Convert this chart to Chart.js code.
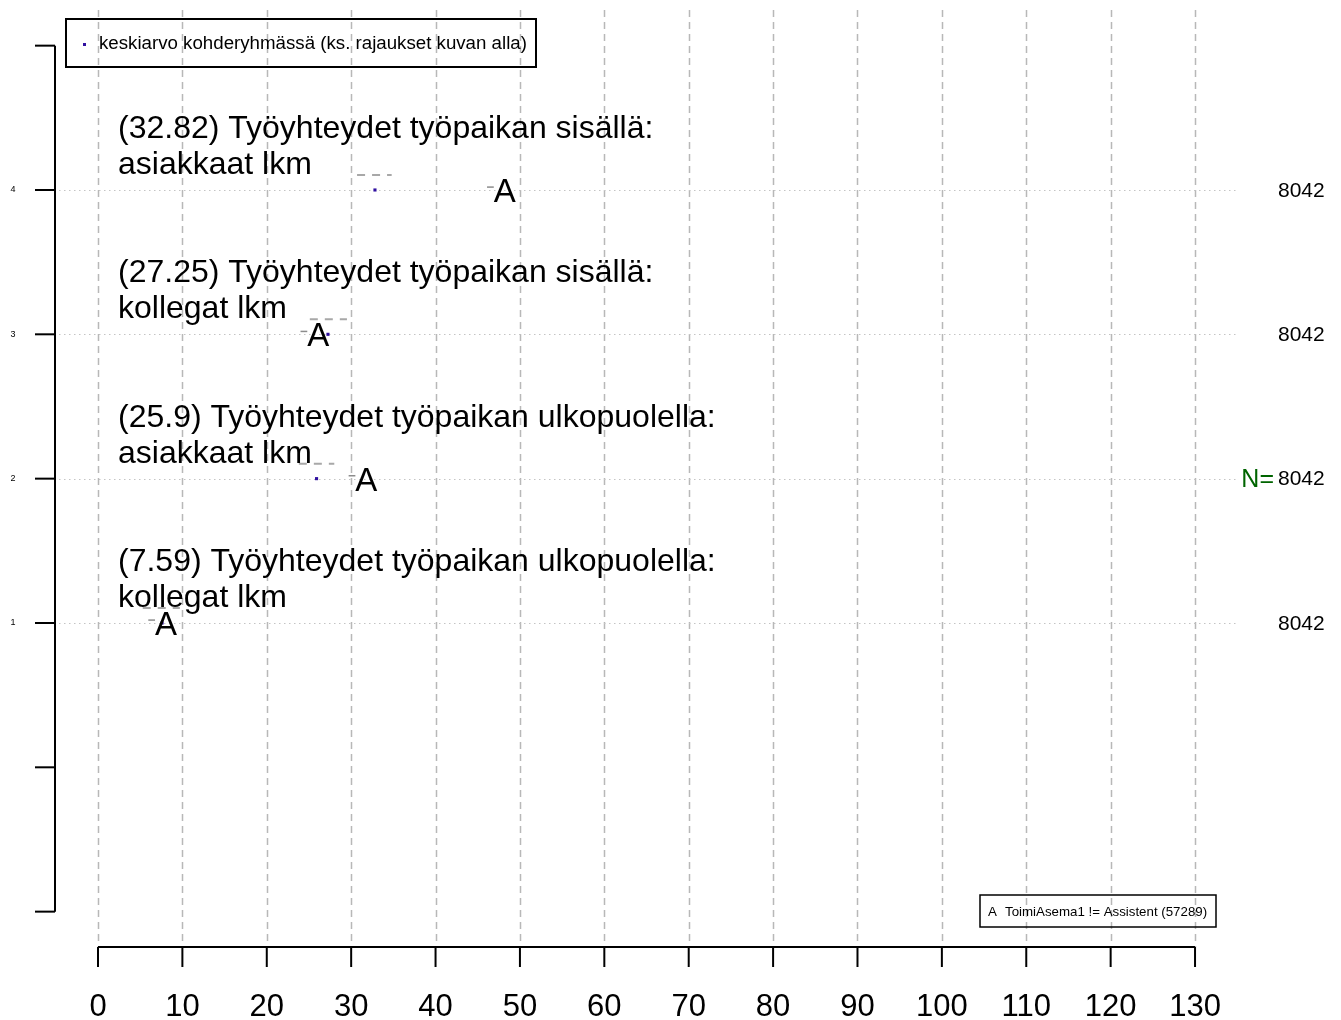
<!DOCTYPE html>
<html><head><meta charset="utf-8">
<script src="https://cdn.jsdelivr.net/npm/chart.js@4.4.1/dist/chart.umd.min.js"></script>
<style>html,body{margin:0;padding:0;background:#fff;}#wrap{width:1341px;height:1020px;}</style>
</head><body><div id="wrap"><canvas id="c" width="1341" height="1020"></canvas></div>
<script>
// ---- data ----
const rows = [4, 3, 2, 1];
const meanValues = [32.82, 27.25, 25.9, 7.59];
const groupAValues = [48.2, 26.1, 31.8, 8.06];
const rangeLow = [30.7, 25.1, 23.8, 5.3];
const rangeHigh = [34.8, 29.5, 28.0, 9.7];
const labelLine1 = [
  "(32.82) Työyhteydet työpaikan sisällä:",
  "(27.25) Työyhteydet työpaikan sisällä:",
  "(25.9) Työyhteydet työpaikan ulkopuolella:",
  "(7.59) Työyhteydet työpaikan ulkopuolella:"
];
const labelLine2 = ["asiakkaat lkm", "kollegat lkm", "asiakkaat lkm", "kollegat lkm"];
const nValues = [8042, 8042, 8042, 8042];
const xTicks = [0, 10, 20, 30, 40, 50, 60, 70, 80, 90, 100, 110, 120, 130];
const yTicks = [-1, 0, 1, 2, 3, 4, 5];
const yTickLabels = ["", "", "1", "2", "3", "4", ""];
const legendMeanText = "keskiarvo kohderyhmässä (ks. rajaukset kuvan alla)";
const groupLetter = "A";
const groupLegendText = "ToimiAsema1 != Assistent (57289)";

// ---- styles ----
const FONT = '"Liberation Sans", Arial, Helvetica, sans-serif';
const MEAN_COLOR = '#3010A0';

const datasets = [];
rows.forEach((r, i) => {
  datasets.push({
    type: 'line', data: [{x: rangeLow[i], y: r + 0.104}, {x: rangeHigh[i], y: r + 0.104}],
    borderColor: '#A8A8A8', borderWidth: 2, borderDash: [8, 7], pointRadius: 0, fill: false
  });
  datasets.push({
    type: 'line', data: [{x: groupAValues[i] - 2.1, y: r + 0.02}, {x: groupAValues[i] - 1.3, y: r + 0.02}],
    borderColor: '#8C8C8C', borderWidth: 1.5, pointRadius: 0, fill: false
  });
});
datasets.push({
  type: 'scatter', label: 'mean',
  data: rows.map((r, i) => ({x: meanValues[i], y: r})),
  pointStyle: 'rect', pointRadius: 2.2, backgroundColor: MEAN_COLOR, borderColor: MEAN_COLOR, borderWidth: 0
});
const groupIdx = datasets.length;
datasets.push({
  type: 'scatter', label: 'A',
  data: rows.map((r, i) => ({x: groupAValues[i], y: r})),
  pointRadius: 0
});

const rPlot = {
  id: 'rPlot',
  beforeDatasetsDraw(chart) {
    const ctx = chart.ctx, X = chart.scales.x, Y = chart.scales.y, a = chart.chartArea;
    ctx.save();
    ctx.strokeStyle = '#B8B8B8'; ctx.lineWidth = 1.5; ctx.setLineDash([7, 5]);
    xTicks.forEach(v => {
      const x = Math.round(X.getPixelForValue(v)) + 0.5;
      ctx.beginPath(); ctx.moveTo(x, a.top); ctx.lineTo(x, a.bottom); ctx.stroke();
    });
    ctx.strokeStyle = '#C4C4C4'; ctx.lineWidth = 1; ctx.setLineDash([1.5, 3.5]);
    rows.forEach(r => {
      const y = Math.round(Y.getPixelForValue(r)) + 0.5;
      ctx.beginPath(); ctx.moveTo(a.left, y); ctx.lineTo(a.right, y); ctx.stroke();
    });
    ctx.restore();
  },
  afterDatasetsDraw(chart) {
    const ctx = chart.ctx, X = chart.scales.x, Y = chart.scales.y, a = chart.chartArea;
    ctx.save();
    ctx.fillStyle = '#000';
    // group letters
    ctx.font = '33px ' + FONT; ctx.textAlign = 'center'; ctx.textBaseline = 'alphabetic';
    chart.getDatasetMeta(groupIdx).data.forEach(el => {
      ctx.fillText(groupLetter, el.x, el.y + 12);
    });
    // row labels
    ctx.font = '32px ' + FONT; ctx.textAlign = 'left';
    rows.forEach((r, i) => {
      const y = Y.getPixelForValue(r), x = X.getPixelForValue(2.37);
      ctx.fillText(labelLine1[i], x, y - 52);
      ctx.fillText(labelLine2[i], x, y - 16);
    });
    // N values
    ctx.textBaseline = 'middle';
    rows.forEach((r, i) => {
      const y = Y.getPixelForValue(r);
      ctx.font = '21px ' + FONT; ctx.textAlign = 'left'; ctx.fillStyle = '#000';
      ctx.fillText(String(nValues[i]), 1278, y + 1);
      if (r === 2) {
        ctx.font = '25px ' + FONT; ctx.textAlign = 'right'; ctx.fillStyle = '#006400';
        ctx.fillText('N=', 1274, y + 1);
      }
    });
    ctx.fillStyle = '#000';
    // x axis
    ctx.strokeStyle = '#000'; ctx.lineWidth = 2; ctx.setLineDash([]);
    const xa = a.bottom;
    ctx.beginPath(); ctx.moveTo(X.getPixelForValue(xTicks[0]), xa); ctx.lineTo(X.getPixelForValue(xTicks[xTicks.length - 1]), xa); ctx.stroke();
    ctx.font = '31px ' + FONT; ctx.textAlign = 'center'; ctx.textBaseline = 'alphabetic';
    xTicks.forEach(v => {
      const x = X.getPixelForValue(v);
      ctx.beginPath(); ctx.moveTo(x, xa); ctx.lineTo(x, xa + 20); ctx.stroke();
      ctx.fillText(String(v), x, 1016);
    });
    // y axis
    const ya = a.left + 1;
    ctx.beginPath(); ctx.moveTo(ya, Y.getPixelForValue(yTicks[yTicks.length - 1])); ctx.lineTo(ya, Y.getPixelForValue(yTicks[0])); ctx.stroke();
    ctx.font = '9px ' + FONT; ctx.textBaseline = 'middle';
    yTicks.forEach((v, i) => {
      const y = Y.getPixelForValue(v);
      ctx.beginPath(); ctx.moveTo(ya, y); ctx.lineTo(ya - 20, y); ctx.stroke();
      if (yTickLabels[i]) ctx.fillText(yTickLabels[i], 13, y);
    });
    // top legend
    ctx.lineWidth = 2;
    ctx.strokeRect(66, 19, 470, 48);
    ctx.fillStyle = MEAN_COLOR; ctx.fillRect(83, 43, 3, 3);
    ctx.fillStyle = '#000'; ctx.font = '18.7px ' + FONT; ctx.textAlign = 'left';
    ctx.fillText(legendMeanText, 99, 44);
    // group legend
    ctx.lineWidth = 1.5;
    ctx.strokeRect(980, 895, 236, 32);
    ctx.font = '13.3px ' + FONT;
    ctx.fillText(groupLetter, 988, 912);
    ctx.fillText(groupLegendText, 1005, 912);
    ctx.restore();
  }
};

new Chart(document.getElementById('c'), {
  type: 'scatter',
  data: {datasets},
  options: {
    responsive: false, animation: false, devicePixelRatio: 1,
    layout: {padding: {left: 54, right: 102, top: 10, bottom: 73}},
    plugins: {legend: {display: false}, tooltip: {enabled: false}},
    scales: {
      x: {type: 'linear', min: -5.214, max: 135.21, display: false},
      y: {type: 'linear', min: -1.245, max: 5.247, display: false}
    }
  },
  plugins: [rPlot]
});
</script></body></html>
